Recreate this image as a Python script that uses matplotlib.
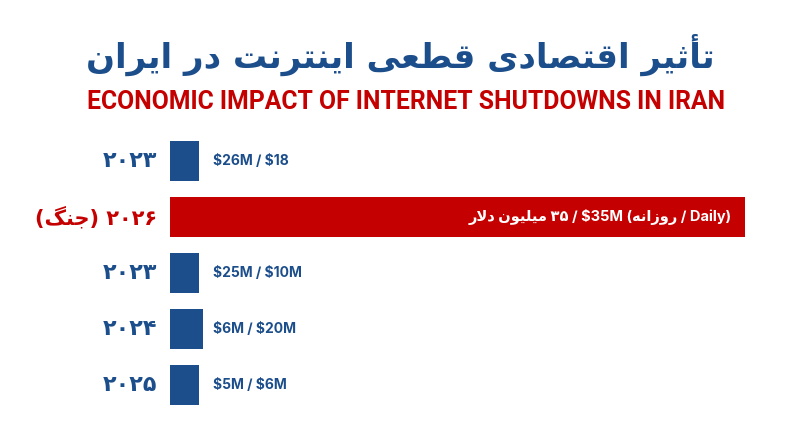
import matplotlib
matplotlib.use('Agg')
import matplotlib.pyplot as plt
from matplotlib import font_manager

# Data
years = ['۲۰۲۳', '۲۰۲۶ (جنگ)', '۲۰۲۳', '۲۰۲۴', '۲۰۲۵']
bar_len = [5.0, 100.0, 5.0, 5.8, 5.1]
value_labels = ['$26M / $18', '(روزانه / Daily) $35M / ۳۵ میلیون دلار',
                '$25M / $10M', '$6M / $20M', '$5M / $6M']
highlight = [False, True, False, False, False]

title_fa = 'تأثیر اقتصادی قطعی اینترنت در ایران'
title_en = 'ECONOMIC IMPACT OF INTERNET SHUTDOWNS IN IRAN'

BLUE = '#1c4e8b'
RED = '#c40000'

# Arabic presentation forms: isolated, final, initial, medial
FORMS = {
    '\u0627': ('\uFE8D', '\uFE8E', None, None),
    '\u0623': ('\uFE83', '\uFE84', None, None),
    '\u062A': ('\uFE95', '\uFE96', '\uFE97', '\uFE98'),
    '\u062B': ('\uFE99', '\uFE9A', '\uFE9B', '\uFE9C'),
    '\u062C': ('\uFE9D', '\uFE9E', '\uFE9F', '\uFEA0'),
    '\u062F': ('\uFEA9', '\uFEAA', None, None),
    '\u0631': ('\uFEAD', '\uFEAE', None, None),
    '\u0632': ('\uFEAF', '\uFEB0', None, None),
    '\u0635': ('\uFEB9', '\uFEBA', '\uFEBB', '\uFEBC'),
    '\u0637': ('\uFEC1', '\uFEC2', '\uFEC3', '\uFEC4'),
    '\u0639': ('\uFEC9', '\uFECA', '\uFECB', '\uFECC'),
    '\u0642': ('\uFED5', '\uFED6', '\uFED7', '\uFED8'),
    '\u0644': ('\uFEDD', '\uFEDE', '\uFEDF', '\uFEE0'),
    '\u0645': ('\uFEE1', '\uFEE2', '\uFEE3', '\uFEE4'),
    '\u0646': ('\uFEE5', '\uFEE6', '\uFEE7', '\uFEE8'),
    '\u0647': ('\uFEE9', '\uFEEA', '\uFEEB', '\uFEEC'),
    '\u0648': ('\uFEED', '\uFEEE', None, None),
    '\u06CC': ('\uFBFC', '\uFBFD', '\uFBFE', '\uFBFF'),
    '\u06AF': ('\uFB92', '\uFB93', '\uFB94', '\uFB95'),
}


def shape(s):
    # join letters into contextual forms, then reverse for display
    out = []
    i = 0
    n = len(s)
    while i < n:
        ch = s[i]
        if ch not in FORMS:
            out.append(ch)
            i += 1
            continue
        prev = s[i - 1] if i > 0 else None
        jp = prev in FORMS and FORMS[prev][2] is not None
        if ch == '\u0644' and i + 1 < n and s[i + 1] == '\u0627':
            out.append('\uFEFC' if jp else '\uFEFB')
            i += 2
            continue
        nxt = s[i + 1] if i + 1 < n else None
        jn = nxt in FORMS and FORMS[ch][2] is not None
        iso, fin, ini, med = FORMS[ch]
        if jp and jn:
            out.append(med)
        elif jp:
            out.append(fin)
        elif jn:
            out.append(ini)
        else:
            out.append(iso)
        i += 1
    return ''.join(out)[::-1]


def visual(label):
    if label == '۲۰۲۶ (جنگ)':
        return '(' + shape('جنگ') + ') ۲۰۲۶'
    if 'روزانه' in label:
        return shape('میلیون دلار') + ' ۳۵ / $35M (' + shape('روزانه') + ' / Daily)'
    return label


names = {f.name for f in font_manager.fontManager.ttflist}
narrow = 'Liberation Sans Narrow' if 'Liberation Sans Narrow' in names else 'Roboto'

fig = plt.figure(figsize=(8, 4.47), dpi=100)
fig.patch.set_facecolor('white')

fig.text(0.5, 1 - 55 / 447, shape(title_fa), ha='center', va='center',
         fontsize=24.5, fontweight='bold', color=BLUE, family=['DejaVu Sans'])
fig.text(0.507, 1 - 102 / 447, title_en, ha='center', va='center',
         fontsize=22 if narrow != 'Roboto' else 17.8, fontweight='bold',
         color=RED, family=[narrow, 'DejaVu Sans'], parse_math=False)

ax = fig.add_axes([170 / 800, 1 - 413 / 447, 575 / 800, 280 / 447])
ypos = list(range(len(years)))
colors = [RED if h else BLUE for h in highlight]
ax.barh(ypos, bar_len, height=0.73, color=colors, align='center')
ax.set_xlim(0, max(bar_len))
ax.set_ylim(len(years) - 0.5, -0.5)
ax.axis('off')

for y, (yr, lab, val, h) in enumerate(zip(years, value_labels, bar_len, highlight)):
    ax.annotate(visual(yr), xy=(0, y), xytext=(-9, 0), textcoords='offset points',
                ha='right', va='center', fontsize=15 if h else 16, fontweight='bold',
                color=RED if h else BLUE, family=['DejaVu Sans'])
    if h:
        ax.annotate(visual(lab), xy=(val, y), xytext=(-9.5, 0), textcoords='offset points',
                    ha='right', va='center', fontsize=10.5, fontweight='bold',
                    color='white', family=['Inter', 'DejaVu Sans'], parse_math=False)
    else:
        # small-bar labels share one left edge
        ax.annotate(lab, xy=(0, y), xytext=(31, 0), textcoords='offset points',
                    ha='left', va='center', fontsize=10, fontweight='bold',
                    color=BLUE, family=['Inter', 'DejaVu Sans'], parse_math=False)

fig.savefig('out.png', dpi=100, facecolor='white')
